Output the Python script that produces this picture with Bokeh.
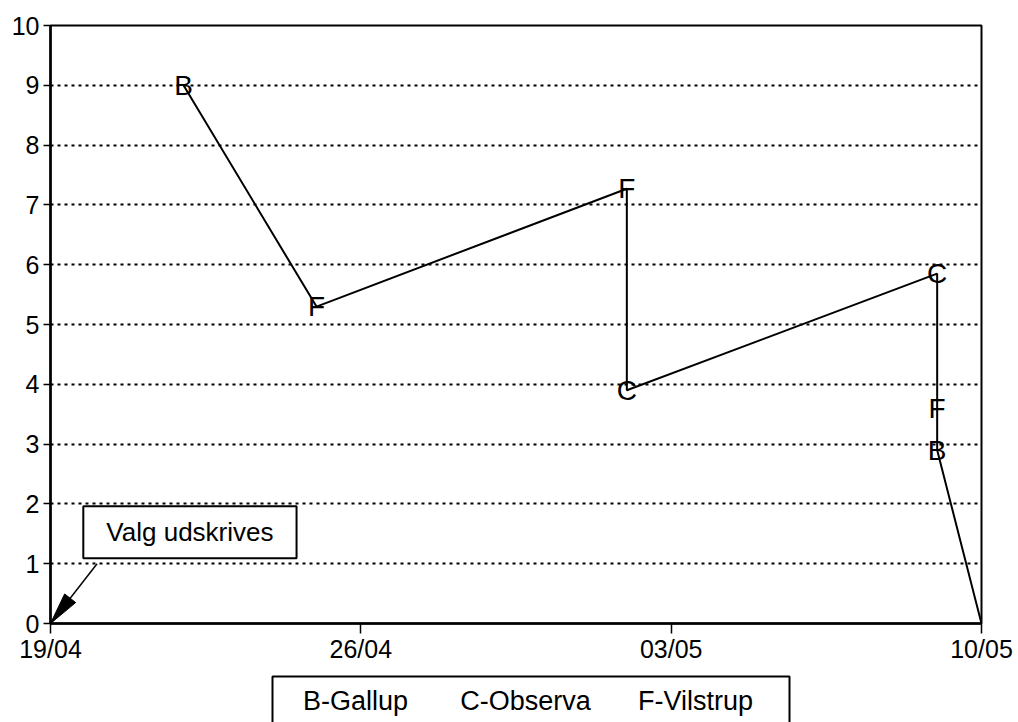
import math
from bokeh.plotting import figure
from bokeh.layouts import column
from bokeh.models import FixedTicker, Label, Range1d, ColumnDataSource
from bokeh.core.properties import value
from bokeh.embed import file_html
from bokeh.resources import INLINE

# ---- data (days after 19/04, value) ----
days = [3, 6, 13, 13, 20, 20, 20, 21]
values = [9.0, 5.3, 7.27, 3.9, 5.85, 3.6, 2.9, 0.0]
letters = ["B", "F", "F", "C", "C", "F", "B", ""]

x_tick_pos = [0, 7, 14, 21]
x_tick_labels = ["19/04", "26/04", "03/05", "10/05"]
y_ticks = list(range(0, 11))
grid_ticks = list(range(1, 10))

legend_labels = ["B-Gallup", "C-Observa", "F-Vilstrup"]

note_text = "Valg udskrives"
arrow_from = (1.05, 1.0)
arrow_to = (0.0, 0.0)

FONT = "Liberation Sans"
W = 1018
H1, H2 = 672, 50
ML, MR, MT, MB = 50, 37, 25, 49
FW, FH = W - ML - MR, H1 - MT - MB

p = figure(width=W, height=H1, x_range=Range1d(0, 21), y_range=Range1d(0, 10),
           output_backend="svg", toolbar_location=None,
           min_border_left=ML, min_border_right=MR,
           min_border_top=MT, min_border_bottom=MB)
p.background_fill_color = "white"
p.border_fill_color = "white"
p.outline_line_color = "black"
p.outline_line_width = 2

# axes
p.xaxis.ticker = FixedTicker(ticks=x_tick_pos)
p.xaxis.major_label_overrides = {t: l for t, l in zip(x_tick_pos, x_tick_labels)}
p.yaxis.ticker = FixedTicker(ticks=y_ticks)
for ax in (p.xaxis, p.yaxis):
    ax.axis_line_color = "black"
    ax.axis_line_width = 2.5
    ax.major_tick_line_color = "black"
    ax.major_tick_line_width = 1.5
    ax.major_tick_in = 0
    ax.minor_tick_line_color = None
    ax.major_label_text_font = FONT
    ax.major_label_text_font_size = "25px"
    ax.major_label_text_color = "black"
p.xaxis.major_tick_out = 10
p.xaxis.major_label_standoff = 1
p.yaxis.major_tick_out = 7
p.yaxis.major_label_standoff = 4

p.xgrid.visible = False
p.ygrid.ticker = FixedTicker(ticks=grid_ticks)
p.ygrid.grid_line_color = "black"
p.ygrid.grid_line_width = 2
p.ygrid.grid_line_dash = "3 4"

# series line and letter markers
src = ColumnDataSource(dict(x=days, y=values, t=letters))
p.line("x", "y", source=src, line_color="black", line_width=2)
p.text("x", "y", text="t", source=src, text_align="center", text_baseline="middle",
       text_font=value(FONT), text_font_size=value("28px"), text_color="black")

# annotation box
p.quad(left=[0.74], right=[5.55], bottom=[1.09], top=[1.96],
       fill_color="white", line_color="black", line_width=2)
p.add_layout(Label(x=3.145, y=1.525, text=note_text, text_align="center",
                   text_baseline="middle", text_font=FONT, text_font_size="26px",
                   text_color="black"))

# arrow: shaft + narrow filled head computed in pixel space
sx, sy = FW / 21.0, FH / 10.0
p.segment(x0=[arrow_from[0]], y0=[arrow_from[1]], x1=[arrow_to[0]], y1=[arrow_to[1]],
          line_color="black", line_width=1.5)
dxp = (arrow_from[0] - arrow_to[0]) * sx
dyp = (arrow_from[1] - arrow_to[1]) * sy
L = math.hypot(dxp, dyp)
ux, uy = dxp / L, dyp / L
hl, hw = 32, 7
bx, by = ux * hl, uy * hl
px_pts = [(0, 0), (bx - uy * hw, by + ux * hw), (bx + uy * hw, by - ux * hw)]
p.patch([arrow_to[0] + a / sx for a, b in px_pts], [arrow_to[1] + b / sy for a, b in px_pts],
        fill_color="black", line_color="black")

# legend strip below (frame is aligned with the main frame: 50..981 px)
p2 = figure(width=W, height=H2, x_range=Range1d(ML, W - MR), y_range=Range1d(0, H2),
            output_backend="svg", toolbar_location=None,
            x_axis_location=None, y_axis_location=None, min_border=0)
p2.outline_line_color = None
p2.background_fill_color = "white"
p2.border_fill_color = "white"
p2.xgrid.visible = False
p2.ygrid.visible = False
p2.quad(left=[272], right=[789], top=[46], bottom=[-10],
        fill_color="white", line_color="black", line_width=2)
p2.text(x=[355, 525, 695], y=[22, 22, 22], text=legend_labels,
        text_align="center", text_baseline="middle",
        text_font=value(FONT), text_font_size=value("27px"), text_color="black")

layout = column(p, p2, spacing=0)
open("out.html", "w").write(file_html(layout, INLINE))
